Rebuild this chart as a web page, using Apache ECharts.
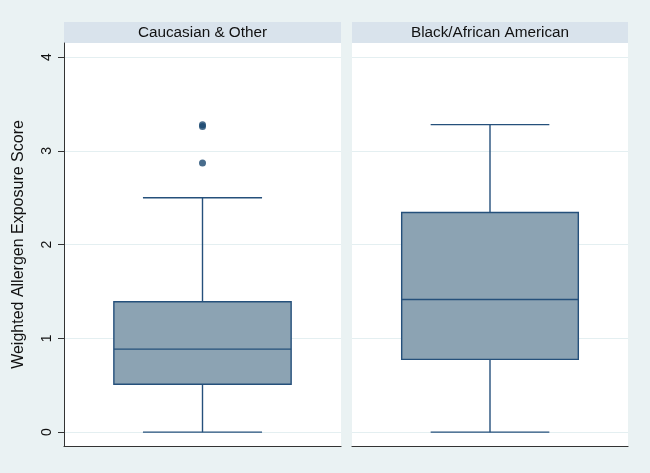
<!DOCTYPE html>
<html>
<head>
<meta charset="utf-8">
<script src="https://cdn.jsdelivr.net/npm/echarts@6/dist/echarts.min.js"></script>
<style>
html,body{margin:0;padding:0;background:#eaf2f3;}
#chart{width:650px;height:473px;}
</style>
</head>
<body>
<div id="chart"></div>
<script>
// ---- data ----
var panels = ["Caucasian & Other", "Black/African American"];
// [min, q1, median, q3, max]
var boxCaucasian = [0, 0.51, 0.885, 1.39, 2.50];
var boxBlack = [0, 0.776, 1.415, 2.343, 3.28];
var outliersCaucasian = [2.87, 3.26, 3.28];
var outliersBlack = [];
var yTicks = [0, 1, 2, 3, 4];
var yTitle = "Weighted Allergen Exposure Score";

var FONT = "'Liberation Sans', Arial, sans-serif";
var boxFill = '#8ca3b3';
var boxLine = '#25507b';
var dotColor = '#1a476f';
var gridColor = '#e4eff1';

var chart = echarts.init(document.getElementById('chart'), null, {renderer: 'canvas'});

var grids = [
  {left: 64, right: 309, top: 43, bottom: 27},
  {left: 352, right: 22, top: 43, bottom: 27}
];

function renderBox(params, api) {
  var x = api.value(0);
  var mn = api.coord([x, api.value(1)]);
  var q1 = api.coord([x, api.value(2)]);
  var md = api.coord([x, api.value(3)]);
  var q3 = api.coord([x, api.value(4)]);
  var mx = api.coord([x, api.value(5)]);
  var band = api.size([1, 0])[0];
  var bw = band * 0.64;
  var cw = band * 0.43;
  var cx = mn[0];
  var ls = {stroke: boxLine, lineWidth: 1.4, fill: null};
  return {
    type: 'group',
    children: [
      {type: 'line', shape: {x1: cx, y1: q3[1], x2: cx, y2: mx[1]}, style: ls},
      {type: 'line', shape: {x1: cx, y1: q1[1], x2: cx, y2: mn[1]}, style: ls},
      {type: 'line', shape: {x1: cx - cw / 2, y1: mx[1], x2: cx + cw / 2, y2: mx[1]}, style: ls},
      {type: 'line', shape: {x1: cx - cw / 2, y1: mn[1], x2: cx + cw / 2, y2: mn[1]}, style: ls},
      {type: 'rect', shape: {x: cx - bw / 2, y: q3[1], width: bw, height: q1[1] - q3[1]},
        style: {fill: boxFill, stroke: boxLine, lineWidth: 1.4}},
      {type: 'line', shape: {x1: cx - bw / 2, y1: md[1], x2: cx + bw / 2, y2: md[1]}, style: ls}
    ]
  };
}

function yAxisFor(i) {
  return {
    type: 'value', gridIndex: i, min: -0.148, max: 4.151,
    axisLine: {show: i === 0, lineStyle: {color: '#333', width: 1}},
    axisTick: {show: i === 0, inside: false, length: 6, customValues: yTicks, lineStyle: {color: '#333'}},
    axisLabel: {show: i === 0, customValues: yTicks, rotate: 90, margin: 10,
      fontFamily: FONT, fontSize: 14, color: '#111'},
    splitLine: {show: true, lineStyle: {color: gridColor, width: 1}},
    name: i === 0 ? yTitle : '',
    nameLocation: 'middle', nameGap: 37, nameRotate: 90,
    nameTextStyle: {fontFamily: FONT, fontSize: 16, color: '#111'}
  };
}

function xAxisFor(i) {
  return {
    type: 'category', gridIndex: i, data: [panels[i]],
    axisLine: {show: true, onZero: false, lineStyle: {color: '#333', width: 1.2}},
    axisTick: {show: false}, axisLabel: {show: false}, splitLine: {show: false}
  };
}

var boxes = [boxCaucasian, boxBlack];
var outs = [outliersCaucasian, outliersBlack];

var series = [];
for (var i = 0; i < 2; i++) {
  var b = boxes[i];
  series.push({
    type: 'custom', xAxisIndex: i, yAxisIndex: i,
    renderItem: renderBox,
    encode: {x: 0, y: [1, 2, 3, 4, 5]},
    data: [[0, b[0], b[1], b[2], b[3], b[4]]],
    silent: true
  });
  series.push({
    type: 'scatter', xAxisIndex: i, yAxisIndex: i,
    symbol: 'circle', symbolSize: 7,
    itemStyle: {color: dotColor},
    data: outs[i].map(function (v) { return [0, v]; }),
    silent: true
  });
}

// panel header strips
var graphics = [];
for (var j = 0; j < 2; j++) {
  var g = grids[j];
  var w = 650 - g.left - g.right;
  graphics.push({
    type: 'group', left: g.left, top: 22,
    children: [
      {type: 'rect', shape: {x: 0, y: 0, width: w, height: 21}, style: {fill: '#d9e3ec'}},
      {type: 'text', x: w / 2, y: 10.5, style: {text: panels[j], fill: '#111',
        font: '15.3px ' + FONT, textAlign: 'center', textVerticalAlign: 'middle'}}
    ]
  });
}

chart.setOption({
  backgroundColor: '#eaf2f3',
  animation: false,
  grid: grids.map(function (g) {
    return {left: g.left, right: g.right, top: g.top, bottom: g.bottom,
      show: true, backgroundColor: '#ffffff', borderWidth: 0};
  }),
  xAxis: [xAxisFor(0), xAxisFor(1)],
  yAxis: [yAxisFor(0), yAxisFor(1)],
  series: series,
  graphic: graphics
});
</script>
</body>
</html>
